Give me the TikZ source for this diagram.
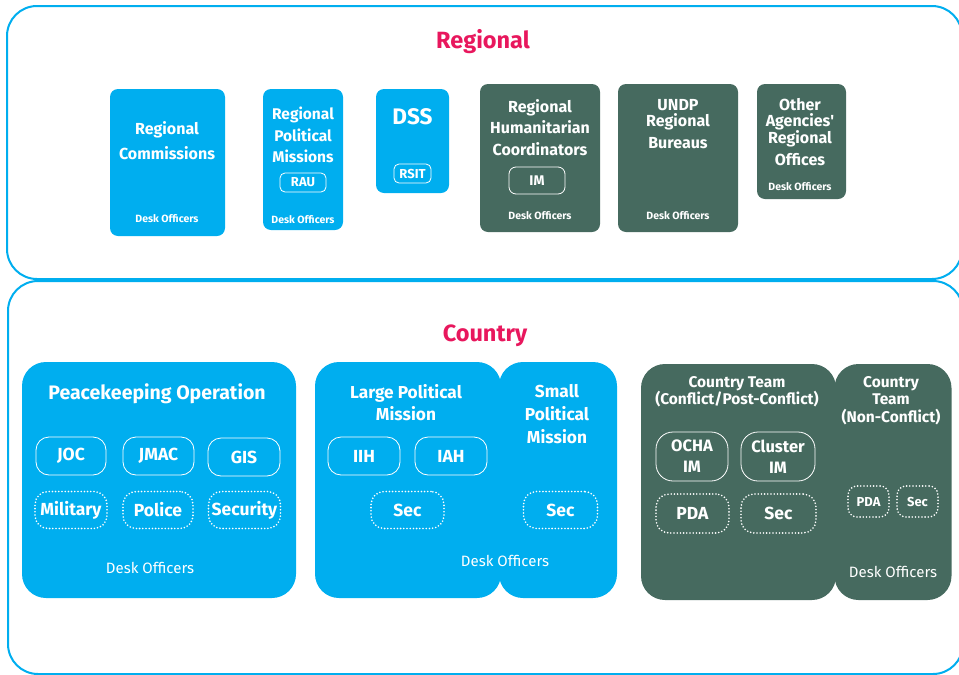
\documentclass[tikz,border=0pt]{standalone}
\usepackage{fontspec}
\setmainfont{Fira Sans}
\definecolor{unblue}{HTML}{00AEEF}
\definecolor{ungreen}{HTML}{466A5F}
\definecolor{unpink}{HTML}{E8175D}
\newcommand{\fs}[2]{\fontsize{#1}{#2}\selectfont}

\begin{document}
\begin{tikzpicture}[x=1pt, y=-1pt, font=\bfseries, text=white]
    \tikzset{frame/.style = {draw=unblue, line width=2pt, rounded corners=30pt}}
    \tikzset{box/.style = {rectangle, rounded corners=8pt, inner sep=0pt}}
    \tikzset{bigbox/.style = {rectangle, rounded corners=24pt, inner sep=0pt}}
    \tikzset{label/.style = {align=center, inner sep=0pt}}
    \tikzset{unit/.style = {rectangle, draw=white, line width=0.8pt, rounded corners=13pt, inner sep=0pt}}
    \tikzset{dotunit/.style = {unit, line width=1.8pt, line cap=round, dash pattern=on 0pt off 3.2pt}}
    \tikzset{desk/.style = {inner sep=0pt, font=\fs{10.5}{12}\bfseries}}
    \tikzset{bigdesk/.style = {inner sep=0pt, font=\fs{15}{18}\mdseries}}

    \useasboundingbox (0,0) rectangle (959,675);

    % frames
    \draw[frame] (7,6) rectangle (962,279);
    \draw[frame] (8,281) rectangle (963,674);
    \node[label, text=unpink, font=\fs{23.5}{28}\bfseries] (regional) at (483,42) {Regional};
    \node[label, text=unpink, font=\fs{23.5}{28}\bfseries] (country) at (485,336) {Country};

    % regional boxes
    \node[box, fill=unblue, minimum width=115, minimum height=147] (rc) at (167.5,162.5) {};
    \node[label, font=\fs{16}{25}\bfseries] (rct) at (167,140.5) {Regional\\Commissions};
    \node[desk] (rcd) at (167,219) {Desk Officers};

    \node[box, fill=unblue, minimum width=80, minimum height=141] (rpm) at (303,159.5) {};
    \node[label, font=\fs{15.5}{21.5}\bfseries] (rpmt) at (303,135) {Regional\\Political\\Missions};
    \node[unit, minimum width=46, minimum height=19, rounded corners=5pt, font=\fs{13}{15}\bfseries] (rau) at (303,182.5) {RAU};
    \node[desk] (rpmd) at (303,220) {Desk Officers};

    \node[box, fill=unblue, minimum width=73, minimum height=104] (dss) at (412.5,141) {};
    \node[label, font=\fs{22.5}{26}\bfseries] (dsst) at (412.5,117) {DSS};
    \node[unit, minimum width=37, minimum height=19, rounded corners=5pt, font=\fs{13}{15}\bfseries] (rsit) at (412.5,173.5) {RSIT};

    \node[box, fill=ungreen, minimum width=120, minimum height=148] (rhc) at (540,158) {};
    \node[label, font=\fs{16}{21.5}\bfseries] (rhct) at (540,127.5) {Regional\\Humanitarian\\Coordinators};
    \node[unit, minimum width=56, minimum height=27, rounded corners=7pt, font=\fs{14}{16}\bfseries] (im) at (537,180.5) {IM};
    \node[desk] (rhcd) at (540,216) {Desk Officers};

    \node[box, fill=ungreen, minimum width=120, minimum height=148] (undp) at (678,158) {};
    \node[label, font=\fs{16}{16}\bfseries] (undpt) at (678,114.5) {UNDP\\Regional};
    \node[label, font=\fs{16}{16}\bfseries] (undpb) at (678,143) {Bureaus};
    \node[desk] (undpd) at (678,216) {Desk Officers};

    \node[box, fill=ungreen, minimum width=89, minimum height=115] (oar) at (801.5,141.5) {};
    \node[label, font=\fs{16}{16}\bfseries] (oart) at (800,122.5) {Other\\Agencies\textquotesingle\\Regional};
    \node[label, font=\fs{16}{16}\bfseries] (oarb) at (800,159.5) {Offices};
    \node[desk] (oard) at (800,187) {Desk Officers};

    % country boxes
    \node[bigbox, fill=unblue, minimum width=274, minimum height=236] (pko) at (159,480) {};
    \node[label, font=\fs{19.5}{23}\bfseries] (pkot) at (157,393.5) {Peacekeeping Operation};
    \node[unit, minimum width=70, minimum height=38, font=\fs{17.5}{20}\bfseries] (joc) at (71,456) {JOC};
    \node[unit, minimum width=71, minimum height=38, font=\fs{17.5}{20}\bfseries] (jmac) at (158.5,456) {JMAC};
    \node[unit, minimum width=72, minimum height=38, font=\fs{17.5}{20}\bfseries] (gis) at (244,457) {GIS};
    \node[dotunit, minimum width=72, minimum height=37, font=\fs{17.5}{20}\bfseries] (mil) at (71,510) {Military};
    \node[dotunit, minimum width=70, minimum height=37, font=\fs{17.5}{20}\bfseries] (pol) at (158,510) {Police};
    \node[dotunit, minimum width=72, minimum height=37, font=\fs{17.5}{20}\bfseries] (sec) at (244.5,510) {Security};
    \node[bigdesk] (pkod) at (150,568) {Desk Officers};

    \node[bigbox, fill=unblue, minimum width=186, minimum height=236] (lpm) at (408,480) {};
    \node[bigbox, fill=unblue, minimum width=118, minimum height=236] (spm) at (558,480) {};
    \node[label, font=\fs{17.3}{22}\bfseries] (lpmt) at (406,402.5) {Large Political\\Mission};
    \node[label, font=\fs{17.3}{23}\bfseries] (spmt) at (557,414) {Small\\Political\\Mission};
    \node[unit, minimum width=72, minimum height=38, font=\fs{17.5}{20}\bfseries] (iih) at (364,456) {IIH};
    \node[unit, minimum width=72, minimum height=38, font=\fs{17.5}{20}\bfseries] (iah) at (451,456) {IAH};
    \node[dotunit, minimum width=73, minimum height=37, font=\fs{17.5}{20}\bfseries] (lsec) at (407.5,510) {Sec};
    \node[dotunit, minimum width=74, minimum height=37, font=\fs{17.5}{20}\bfseries] (ssec) at (560.5,510) {Sec};
    \node[bigdesk] (polid) at (505,561) {Desk Officers};

    \node[bigbox, fill=ungreen, minimum width=195, minimum height=236] (ctc) at (738.5,482) {};
    \node[bigbox, fill=ungreen, minimum width=117, minimum height=236] (ctn) at (893,482) {};
    \node[label, font=\fs{15.5}{17}\bfseries] (ctct) at (737,391.5) {Country Team\\(Conflict/Post-Conflict)};
    \node[label, font=\fs{15.5}{17.5}\bfseries] (ctnt) at (891,400.5) {Country\\Team\\(Non-Conflict)};
    \node[unit, label, minimum width=72, minimum height=49, font=\fs{16.5}{21}\bfseries, rounded corners=17pt] (ocha) at (692,456.5) {OCHA\\IM};
    \node[unit, label, minimum width=74, minimum height=49, font=\fs{16.5}{21}\bfseries, rounded corners=17pt] (clus) at (778,456.5) {Cluster\\IM};
    \node[dotunit, minimum width=73, minimum height=39, font=\fs{17.5}{20}\bfseries] (pda) at (692.5,513.5) {PDA};
    \node[dotunit, minimum width=75, minimum height=39, font=\fs{17.5}{20}\bfseries] (csec) at (778.5,513.5) {Sec};
    \node[dotunit, minimum width=41, minimum height=31, font=\fs{13}{15}\bfseries, rounded corners=9pt] (npda) at (868.5,501.5) {PDA};
    \node[dotunit, minimum width=41, minimum height=31, font=\fs{13}{15}\bfseries, rounded corners=9pt] (nsec) at (917.5,501.5) {Sec};
    \node[bigdesk] (ctd) at (893,572) {Desk Officers};
\end{tikzpicture}
\end{document}
